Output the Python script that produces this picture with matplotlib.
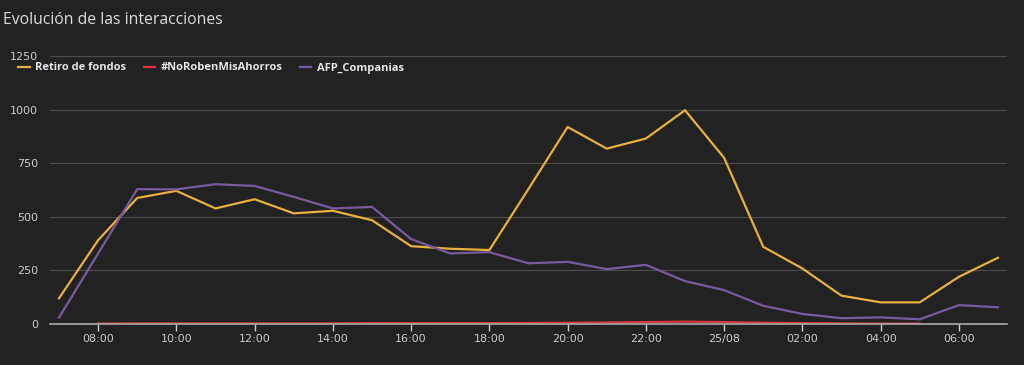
import matplotlib.pyplot as plt
import numpy as np

# Hourly samples from 07:00 (24/08) to 07:00 (25/08)
hours = np.arange(7, 32)
retiro = [120, 391, 588, 621, 539, 582, 516, 528, 484, 363, 351, 345, 630,
          919, 818, 865, 997, 775, 360, 259, 132, 101, 101, 220, 309]
no_roben = [np.nan, 2, 3, 3, 3, 3, 3, 3, 4, 4, 4, 4, 5,
            6, 7, 9, 11, 9, 6, 4, 3, 2, 2, np.nan, np.nan]
afp = [30, 329, 629, 628, 652, 644, 593, 539, 546, 396, 329, 335, 283,
       290, 256, 276, 200, 158, 85, 47, 27, 31, 22, 88, 78]

tick_hours = [8, 10, 12, 14, 16, 18, 20, 22, 24, 26, 28, 30]
tick_labels = ["08:00", "10:00", "12:00", "14:00", "16:00", "18:00",
               "20:00", "22:00", "25/08", "02:00", "04:00", "06:00"]
y_ticks = [0, 250, 500, 750, 1000, 1250]

BG = "#222222"
COLORS = {
    "Retiro de fondos": "#e8b03e",
    "#NoRobenMisAhorros": "#d9363e",
    "AFP_Companias": "#7a5a9e",
}

fig = plt.figure(figsize=(10.24, 3.65), dpi=100, facecolor=BG)
ax = fig.add_axes([50 / 1024, 41 / 365, 957 / 1024, 268 / 365], facecolor=BG)

ax.plot(hours, retiro, color=COLORS["Retiro de fondos"], lw=1.6, label="Retiro de fondos")
ax.plot(hours, no_roben, color=COLORS["#NoRobenMisAhorros"], lw=1.6, label="#NoRobenMisAhorros")
ax.plot(hours, afp, color=COLORS["AFP_Companias"], lw=1.6, label="AFP_Companias")

ax.set_xlim(6.77, 31.23)
ax.set_ylim(0, 1250)
ax.set_yticks(y_ticks)
ax.set_xticks(tick_hours)
ax.set_xticklabels(tick_labels)

ax.grid(axis="y", color="#4d4d4d", lw=0.8)
ax.set_axisbelow(True)
for side in ["top", "right", "left"]:
    ax.spines[side].set_visible(False)
ax.spines["bottom"].set_color("#aaaaaa")
ax.spines["bottom"].set_linewidth(1.2)

ax.tick_params(axis="y", length=0, pad=8.5, labelsize=8, colors="#cccccc")
ax.tick_params(axis="x", length=5, width=1, color="#cccccc", labelsize=8,
               colors="#cccccc", pad=2)

leg = fig.legend(*ax.get_legend_handles_labels(), loc="center left",
                 bbox_to_anchor=(14 / 1024, 1 - 68 / 365), ncol=3,
                 frameon=False, handlelength=1.0, columnspacing=1.6,
                 handletextpad=0.5, borderaxespad=0,
                 prop={"family": "Open Sans", "weight": "bold", "size": 8})
for txt in leg.get_texts():
    txt.set_color("#e6e6e6")

fig.text(3 / 1024, 1 - 20 / 365, "Evolución de las interacciones", color="#dddddd",
         fontsize=11.3, family="Open Sans", va="center", ha="left")

fig.savefig("out.png", dpi=100, facecolor=BG)
